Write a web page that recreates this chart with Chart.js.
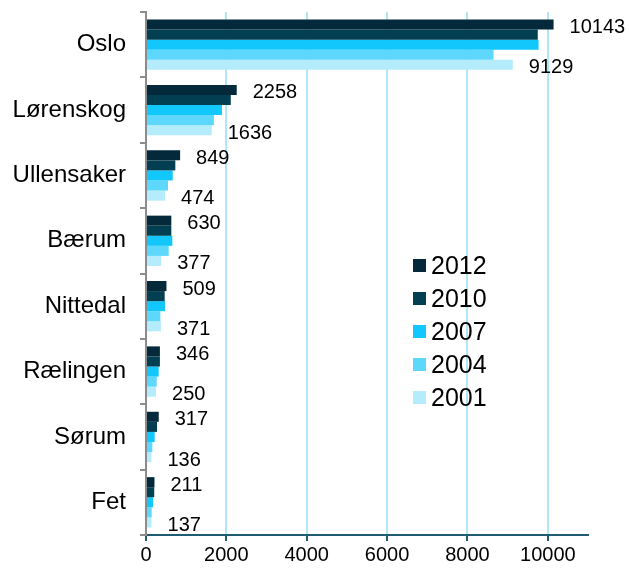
<!DOCTYPE html>
<html>
<head>
<meta charset="utf-8">
<script src="https://cdn.jsdelivr.net/npm/chart.js@4.4.0/dist/chart.umd.min.js"></script>
<style>
  body { margin: 0; background: #fff; }
  #wrap { position: relative; width: 629px; height: 570px; }
  #legend { position: absolute; left: 413px; top: 249px; font-family: Arial, "Liberation Sans", sans-serif; font-size: 25px; color: #000; }
  #legend div { height: 33px; line-height: 33px; display: flex; align-items: center; }
  #legend span.box { display: inline-block; width: 13px; height: 13px; margin-right: 5px; }
</style>
</head>
<body>
<div id="wrap">
  <canvas id="chart" width="629" height="570"></canvas>
  <div id="legend"></div>
</div>
<script>
// Data
const places = ['Oslo', 'Lørenskog', 'Ullensaker', 'Bærum', 'Nittedal', 'Rælingen', 'Sørum', 'Fet'];
const years = ['2012', '2010', '2007', '2004', '2001'];
const v2012 = [10143, 2258, 849, 630, 509, 346, 317, 211];
const v2010 = [9750, 2110, 730, 630, 465, 346, 274, 205];
const v2007 = [9770, 1890, 665, 656, 473, 316, 216, 174];
const v2004 = [8650, 1690, 548, 565, 357, 266, 158, 141];
const v2001 = [9129, 1636, 474, 377, 371, 250, 136, 137];
const xTicks = [0, 2000, 4000, 6000, 8000, 10000];

const colors = ['#03293a', '#033f53', '#12c7fb', '#5dd8fc', '#b4ecfc'];
const seriesValues = [v2012, v2010, v2007, v2004, v2001];

// labels for first and last series, to the right of the bar end
const valueLabels = {
    id: 'valueLabels',
    afterDatasetsDraw(chart) {
        const ctx = chart.ctx;
        ctx.save();
        ctx.font = '20px Arial, "Liberation Sans", sans-serif';
        ctx.fillStyle = '#000';
        ctx.textAlign = 'left';
        ctx.textBaseline = 'middle';
        [0, 4].forEach(function(di) {
            const meta = chart.getDatasetMeta(di);
            meta.data.forEach(function(bar, i) {
                ctx.fillText(String(chart.data.datasets[di].data[i]), bar.x + 16, bar.y + 3);
            });
        });
        ctx.restore();
    }
};

const chart = new Chart(document.getElementById('chart'), {
    type: 'bar',
    data: {
        labels: places,
        datasets: years.map(function(y, i) {
            return {
                label: y,
                data: seriesValues[i],
                backgroundColor: colors[i],
                borderWidth: 0,
                categoryPercentage: 0.77,
                barPercentage: 1.0
            };
        })
    },
    options: {
        indexAxis: 'y',
        responsive: false,
        animation: false,
        layout: { padding: { top: 12, right: 41, left: 0, bottom: 0 } },
        plugins: {
            legend: { display: false },
            tooltip: { enabled: false }
        },
        scales: {
            x: {
                min: 0,
                max: 11000,
                afterBuildTicks: function(scale) {
                    scale.ticks = xTicks.concat([11000]).map(function(v) { return { value: v }; });
                },
                afterFit: function(scale) {
                    scale.height = 35;
                    scale.paddingLeft = 0;
                    scale.paddingRight = 0;
                },
                ticks: {
                    color: '#000',
                    font: { family: 'Arial, "Liberation Sans", sans-serif', size: 20 },
                    padding: 2,
                    maxRotation: 0,
                    callback: function(v) { return v === 11000 ? '' : v; }
                },
                grid: {
                    color: function(c) {
                        const v = c.tick ? c.tick.value : null;
                        return (v === 0 || v === 11000) ? 'rgba(0,0,0,0)' : '#aee8f8';
                    },
                    tickColor: function(c) {
                        const v = c.tick ? c.tick.value : null;
                        return v === 11000 ? 'rgba(0,0,0,0)' : '#1d5c72';
                    },
                    lineWidth: 2,
                    tickLength: 6
                },
                border: { color: '#1d5c72', width: 2 }
            },
            y: {
                afterFit: function(scale) {
                    scale.width = 146;
                    scale.paddingTop = 0;
                    scale.paddingBottom = 0;
                },
                ticks: {
                    color: '#000',
                    font: { family: 'Arial, "Liberation Sans", sans-serif', size: 24 },
                    padding: 14
                },
                grid: {
                    drawOnChartArea: false,
                    color: '#8c8c8c',
                    tickLength: 6,
                    lineWidth: 2
                },
                border: { color: '#8c8c8c', width: 2 }
            }
        }
    },
    plugins: [valueLabels]
});

// legend in the plot, built from the series
const legend = document.getElementById('legend');
years.forEach(function(y, i) {
    const row = document.createElement('div');
    const box = document.createElement('span');
    box.className = 'box';
    box.style.background = colors[i];
    row.appendChild(box);
    row.appendChild(document.createTextNode(y));
    legend.appendChild(row);
});
</script>
</body>
</html>
